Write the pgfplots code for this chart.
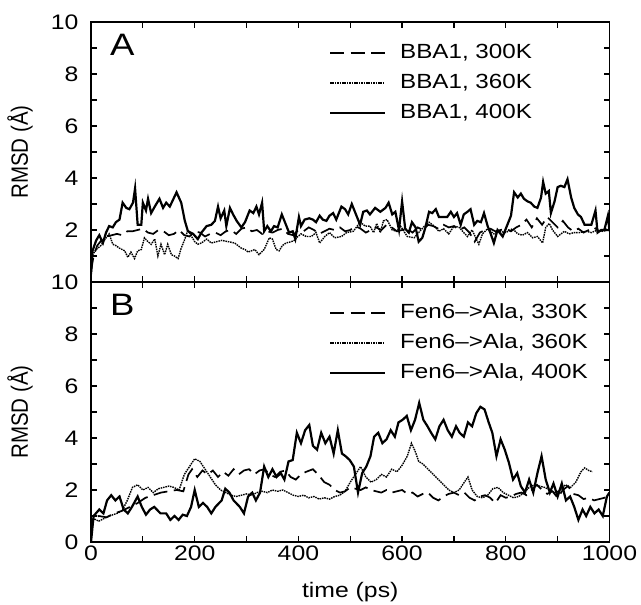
\documentclass[border=0pt]{standalone}
\usepackage{graphicx}
\usepackage{pgfplots}
\pgfplotsset{compat=1.18}
\usepackage{fontspec}
\setmainfont{Liberation Sans}[FakeStretch=1.18]
\newfontfamily\plainsans{Liberation Sans}

\pgfplotstableread{
t v
0 0.4
5 1.0
12 1.4
20 1.6
30 1.75
40 1.8
50 1.85
60 1.8
70 1.95
80 1.95
90 2.0
100 2.05
110 1.9
120 1.85
130 2.0
140 1.95
150 1.8
160 1.85
170 2.0
180 1.8
190 1.75
200 1.95
210 1.9
220 1.75
230 1.85
240 1.9
250 1.8
260 1.95
270 2.0
280 1.85
290 2.05
300 2.1
310 1.95
320 2.0
330 1.85
340 1.95
350 1.9
360 2.0
370 2.05
380 1.85
390 1.8
400 2.0
410 1.95
420 2.1
430 2.0
440 1.85
450 1.95
460 2.05
470 2.0
480 2.1
490 1.95
500 2.0
510 2.15
520 2.05
530 1.9
540 2.0
550 2.1
560 2.0
570 2.2
580 2.1
590 1.95
600 2.0
610 2.05
620 1.9
630 2.1
640 2.0
650 2.2
660 2.15
670 2.05
680 2.2
690 2.1
700 2.15
710 2.0
720 2.1
730 1.9
740 1.55
750 1.9
760 2.0
770 2.05
780 1.95
790 2.0
800 2.05
810 1.95
820 2.1
830 2.2
840 2.4
850 2.1
860 2.45
870 2.2
880 2.5
890 2.3
900 2.1
910 2.35
920 2.1
930 1.95
940 2.05
950 1.9
960 2.0
970 2.1
980 1.95
990 2.0
1000 2.05
}\tabAa

\pgfplotstableread{
t v
0 0.2
3 1.05
10 1.25
19 1.4
29 1.7
35 1.85
42 1.45
48 1.4
55 1.3
65 1.2
71 0.95
77 1.15
84 0.9
90 1.2
97 1.25
103 1.7
110 1.55
116 1.45
123 1.65
129 1.0
135 1.45
142 1.05
148 1.45
155 1.05
161 1.0
168 0.9
174 1.3
181 1.65
187 2.0
194 1.75
200 1.55
206 1.45
213 1.5
223 1.65
232 1.5
242 1.55
252 1.6
265 1.55
277 1.5
290 1.3
297 1.25
303 1.15
316 1.25
324 1.05
334 1.25
344 1.7
350 1.65
357 1.25
363 1.2
369 1.4
376 1.5
386 1.55
392 1.6
399 1.75
405 1.85
415 1.75
425 1.75
434 1.9
441 1.5
451 1.75
460 1.9
470 1.7
483 1.75
493 1.9
506 1.95
519 2.3
529 2.15
538 2.15
545 1.9
551 2.25
558 1.9
564 2.35
571 2.4
581 2.0
590 1.95
597 2.15
610 1.75
623 1.7
632 1.9
643 2.15
652 2.3
662 2.15
671 1.95
680 2.05
690 1.85
700 2.15
710 2.1
719 1.9
726 1.75
735 2.0
742 1.7
748 1.45
755 1.85
765 2.05
777 1.85
787 1.95
800 1.9
813 2.05
823 1.85
832 1.8
842 1.9
852 1.7
861 1.75
871 1.5
877 2.1
884 2.25
890 2.0
900 1.75
913 1.95
922 1.85
932 1.9
942 1.9
955 1.95
965 1.9
977 2.0
987 1.95
1000 2.0
}\tabAb

\pgfplotstableread{
t v
0 0.3
3 1.2
10 1.6
16 1.8
23 1.5
29 1.9
35 2.15
42 2.1
48 2.3
55 2.4
61 3.05
68 2.85
74 2.8
81 3.05
85 3.6
90 2.2
97 2.2
100 3.05
106 2.75
110 3.2
116 2.65
123 2.9
132 3.2
139 2.85
145 3.05
152 2.9
165 3.45
174 3.05
181 2.35
187 1.95
197 1.85
206 1.65
213 1.9
223 2.15
232 2.2
239 2.35
245 2.9
250 2.45
257 2.75
261 2.15
268 2.85
274 2.6
281 2.35
290 2.1
297 2.3
306 2.75
313 2.65
319 2.9
324 2.6
330 3.05
334 1.95
340 2.15
347 1.95
353 2.15
360 2.1
368 2.6
376 2.2
382 1.9
389 1.95
394 1.65
401 2.5
405 2.15
412 2.4
421 2.45
428 2.4
434 2.3
441 2.55
447 2.4
454 2.35
460 2.55
467 2.65
473 2.4
483 2.9
490 2.8
496 2.6
503 3.0
512 2.55
519 2.2
525 2.7
532 2.75
538 2.6
548 2.85
558 2.7
568 2.85
574 3.05
581 2.6
587 2.7
594 2.0
600 3.1
606 2.05
613 1.9
619 2.3
626 2.1
632 1.55
639 1.7
645 2.1
652 2.7
658 2.65
665 2.8
671 2.5
677 2.5
687 2.5
694 2.7
700 2.5
706 2.65
713 2.2
719 2.6
726 2.7
732 2.8
739 2.2
745 2.35
752 2.3
758 2.65
765 2.15
771 1.85
777 1.5
784 2.0
794 1.75
803 2.2
810 2.55
816 3.45
823 3.25
829 3.4
835 3.2
842 3.1
848 3.05
855 2.9
861 2.85
868 3.25
872 3.85
877 3.4
883 3.5
887 2.65
894 3.1
900 3.65
906 3.7
913 3.65
919 3.95
926 3.25
932 2.85
939 2.6
945 2.5
952 2.2
958 2.2
965 2.2
973 2.75
977 1.9
984 2.0
990 2.0
997 2.55
1000 1.95
}\tabAc

\pgfplotstableread{
t v
0 0.3
5 0.9
15 1.0
30 0.95
45 1.1
60 1.2
75 1.35
90 1.5
105 1.7
120 1.8
135 1.9
150 1.95
165 2.0
178 1.95
188 2.6
195 2.8
205 2.5
215 2.75
225 2.6
235 2.75
245 2.5
255 2.7
265 2.55
275 2.8
285 2.6
295 2.75
305 2.8
315 2.6
325 2.75
335 2.8
345 2.6
355 2.5
365 2.7
375 2.75
385 2.5
395 2.4
405 2.6
415 2.7
428 2.8
440 2.55
450 2.3
460 2.2
470 2.0
480 1.9
490 1.95
500 2.1
510 2.05
520 2.0
530 2.1
540 2.0
550 1.95
560 1.9
570 2.0
580 1.9
590 1.95
600 2.0
610 1.85
620 1.9
630 1.75
640 1.85
650 1.9
660 1.7
670 1.6
680 1.75
690 1.85
700 1.9
710 1.8
720 1.9
730 1.7
740 1.6
750 1.75
760 1.8
770 1.7
780 1.5
790 1.8
800 1.7
810 1.75
820 1.85
830 1.9
840 1.8
850 2.0
860 2.2
870 2.0
880 1.85
890 1.95
900 1.7
910 2.0
920 2.15
930 1.85
940 1.8
950 1.65
960 1.7
970 1.6
980 1.65
990 1.7
1000 1.8
}\tabBa

\pgfplotstableread{
t v
0 0.3
5 0.9
15 0.8
25 0.9
35 1.0
50 1.1
60 1.2
70 1.6
80 2.1
90 2.2
100 2.0
110 2.1
120 1.9
130 2.05
140 2.1
150 2.15
160 2.1
170 2.0
180 2.6
190 2.9
200 3.2
210 3.1
220 2.8
230 2.5
240 2.2
250 2.0
260 1.9
270 1.8
280 1.75
290 1.8
300 1.85
310 1.8
320 1.9
330 1.95
340 1.9
350 2.0
360 1.95
370 2.0
380 1.9
390 1.8
400 1.75
410 1.8
420 1.7
430 1.75
440 1.65
450 1.7
460 1.65
470 1.75
480 1.8
490 1.95
500 2.3
510 2.6
520 2.9
530 2.5
540 2.3
550 2.4
560 2.6
570 2.5
580 2.8
590 2.7
600 2.95
610 3.3
618 3.8
625 3.5
632 3.1
640 3.0
650 2.8
660 2.6
670 2.4
680 2.2
690 2.0
700 1.9
710 2.0
720 2.3
727 2.5
735 2.0
745 1.75
755 1.7
765 1.8
775 2.05
785 2.1
795 1.9
805 1.8
815 1.7
825 1.75
835 1.9
845 2.1
855 2.2
865 2.15
875 2.1
885 2.0
895 1.9
905 2.0
915 2.2
925 2.1
935 2.3
945 2.7
952 2.85
960 2.75
967 2.7
}\tabBb

\pgfplotstableread{
t v
0 0.0
5 1.0
16 1.25
24 1.1
31 1.6
39 1.8
47 1.6
55 1.75
63 1.25
71 1.1
79 1.35
90 1.75
98 1.35
106 1.05
114 1.25
122 1.35
134 1.1
145 1.1
153 0.85
161 1.0
169 0.85
177 1.05
185 1.0
193 1.35
200 2.0
208 1.35
216 1.5
224 1.35
232 1.1
240 1.35
252 1.6
259 2.05
267 1.9
275 1.6
287 1.35
295 1.1
303 1.75
311 1.9
318 1.6
326 1.9
334 2.9
342 2.5
350 2.8
358 2.5
366 2.65
373 2.4
381 3.1
389 3.15
397 4.2
405 3.8
413 4.3
421 4.5
428 3.7
436 3.55
444 4.2
452 3.8
460 4.05
468 3.4
476 4.3
484 3.4
491 3.3
499 3.15
507 2.9
515 1.9
523 2.65
531 2.9
539 3.3
546 4.05
554 4.2
562 3.8
570 3.95
578 4.3
586 4.05
593 4.6
601 4.7
609 4.85
617 4.3
625 4.7
633 5.35
641 4.7
649 4.45
656 4.2
664 3.95
672 4.45
680 4.7
688 4.3
696 4.05
704 4.45
711 4.2
719 4.05
727 4.6
735 4.45
743 4.95
751 5.2
759 5.1
767 4.6
774 4.2
782 3.3
790 3.95
798 3.55
806 3.05
814 2.4
822 2.65
829 2.15
837 1.9
845 2.4
853 1.9
861 2.65
869 3.3
877 2.4
885 1.9
892 2.25
900 1.75
908 2.25
916 1.6
924 1.75
932 1.35
940 0.85
948 1.25
955 1.0
963 1.35
971 1.1
979 1.25
987 1.0
995 1.75
1000 1.9
}\tabBc

\pgfplotsset{
  rmsd/.style={
    scale only axis, width=518.5pt, height=260pt,
    xmin=0, xmax=1000, ymin=0, ymax=10,
    xtick={0,200,...,1000}, minor xtick={100,300,...,900},
    minor ytick={1,3,5,7,9},
    tick align=inside, tick pos=both,
    major tick length=6pt, minor tick length=6pt,
    axis line style={line width=1.6pt},
    every tick/.style={black, line width=1.3pt},
    every minor tick/.style={black, line width=1.3pt},
    tick label style={font=\fontsize{21}{25}\selectfont},
    /pgf/number format/assume math mode=true,
    /pgf/number format/set thousands separator={},
    yticklabel style={xshift=-9pt},
    every axis y label/.style={at={(axis description cs:-0.112,0.5)}, rotate=90, anchor=south, inner sep=0pt, font=\plainsans\fontsize{20.5}{24}\selectfont},
    every axis x label/.style={at={(axis description cs:0.5,0)}, anchor=base, yshift=-56pt, font=\fontsize{21}{25}\selectfont},
    ylabel={\scalebox{1}[1.15]{RMSD (Å)}},
    legend style={draw=none, fill=none, at={(rel axis cs:0.459,0.917)}, anchor=north west,
      font=\fontsize{20.5}{24}\selectfont, row sep=11pt, column sep=14pt, inner sep=0pt, outer sep=0pt,
      nodes={text height=15pt, text depth=4pt, inner sep=0pt}},
    legend cell align=left,
    legend image code/.code={\draw[##1] (0pt,0pt) -- (55pt,0pt);},
  },
  p300/.style={black, line width=1.7pt, dash pattern=on 14pt off 6.5pt},
  p360/.style={black, line width=1.4pt, dash pattern=on 1.5pt off 0.9pt},
  p400/.style={black, line width=2.2pt},
}

\begin{document}
\begin{tikzpicture}
\path[use as bounding box] (-91pt,-63pt) rectangle (550pt,542pt);
\begin{axis}[rmsd, at={(0,260pt)}, anchor=south west,
  ytick={2,4,6,8,10}, xticklabels={}]
\addplot[p300] table[x=t,y=v] {\tabAa};
\addplot[p360] table[x=t,y=v] {\tabAb};
\addplot[p400] table[x=t,y=v] {\tabAc};
\legend{BBA1{,} 300K, BBA1{,} 360K, BBA1{,} 400K}
\node[anchor=north west, inner sep=0pt, font=\fontsize{31}{36}\selectfont] at (rel axis cs:0,1) [xshift=19pt, yshift=-12pt] {A};
\end{axis}
\begin{axis}[rmsd, at={(0,0)}, anchor=south west,
  ytick={0,2,...,10}, xlabel={time (ps)}]
\addplot[p300] table[x=t,y=v] {\tabBa};
\addplot[p360] table[x=t,y=v] {\tabBb};
\addplot[p400] table[x=t,y=v] {\tabBc};
\legend{Fen6–>Ala{,} 330K, Fen6–>Ala{,} 360K, Fen6–>Ala{,} 400K}
\node[anchor=north west, inner sep=0pt, font=\fontsize{31}{36}\selectfont] at (rel axis cs:0,1) [xshift=19pt, yshift=-12pt] {B};
\end{axis}
\end{tikzpicture}
\end{document}
